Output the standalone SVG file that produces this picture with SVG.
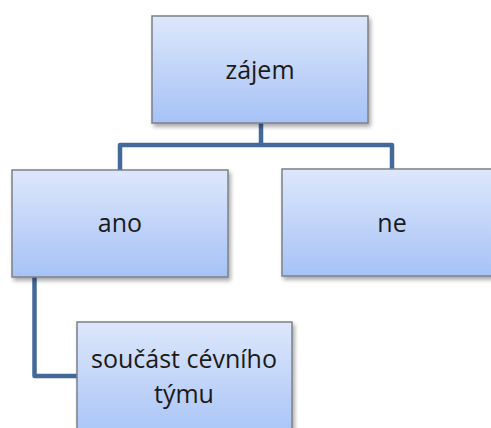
<svg xmlns="http://www.w3.org/2000/svg" width="491" height="428" viewBox="0 0 491 428">
<defs>
<linearGradient id="g" x1="0" y1="0" x2="0" y2="1">
<stop offset="0" stop-color="#dde7fb"/>
<stop offset="1" stop-color="#a6c2f6"/>
</linearGradient>
<filter id="sh" x="-10%" y="-10%" width="125%" height="130%">
<feGaussianBlur in="SourceAlpha" stdDeviation="2"/>
<feOffset dx="1.5" dy="3" result="b"/>
<feComponentTransfer><feFuncA type="linear" slope="0.35"/></feComponentTransfer>
<feMerge><feMergeNode/><feMergeNode in="SourceGraphic"/></feMerge>
</filter>
</defs>
<style>
.box{fill:url(#g);stroke:#7c8087;stroke-width:1.5;filter:url(#sh)}
.t{font-family:"Open Sans","DejaVu Sans",sans-serif;font-size:25px;fill:#1a1a1a;text-anchor:middle}
.c{fill:none;stroke:#43699a;stroke-width:4.5;stroke-linejoin:round}
</style>
<rect width="491" height="428" fill="#ffffff"/>
<g id="connectors">
<path class="c" d="M261 123 V145 H120 V170"/>
<path class="c" d="M261 145 H392 V169"/>
<path class="c" d="M34.5 277 V376 H78"/>
</g>
<g id="n-zajem">
<rect class="box" x="152" y="16" width="216" height="107"/>
<text class="t" x="260" y="79">zájem</text>
</g>
<g id="n-ano">
<rect class="box" x="12" y="170" width="216" height="107"/>
<text class="t" x="120" y="232">ano</text>
</g>
<g id="n-ne">
<rect class="box" x="282" y="169" width="220" height="107"/>
<text class="t" x="392" y="232">ne</text>
</g>
<g id="n-soucast">
<rect class="box" x="77" y="322" width="215" height="120"/>
<text class="t" x="184" y="368">součást cévního</text>
<text class="t" x="184" y="403">týmu</text>
</g>
</svg>
